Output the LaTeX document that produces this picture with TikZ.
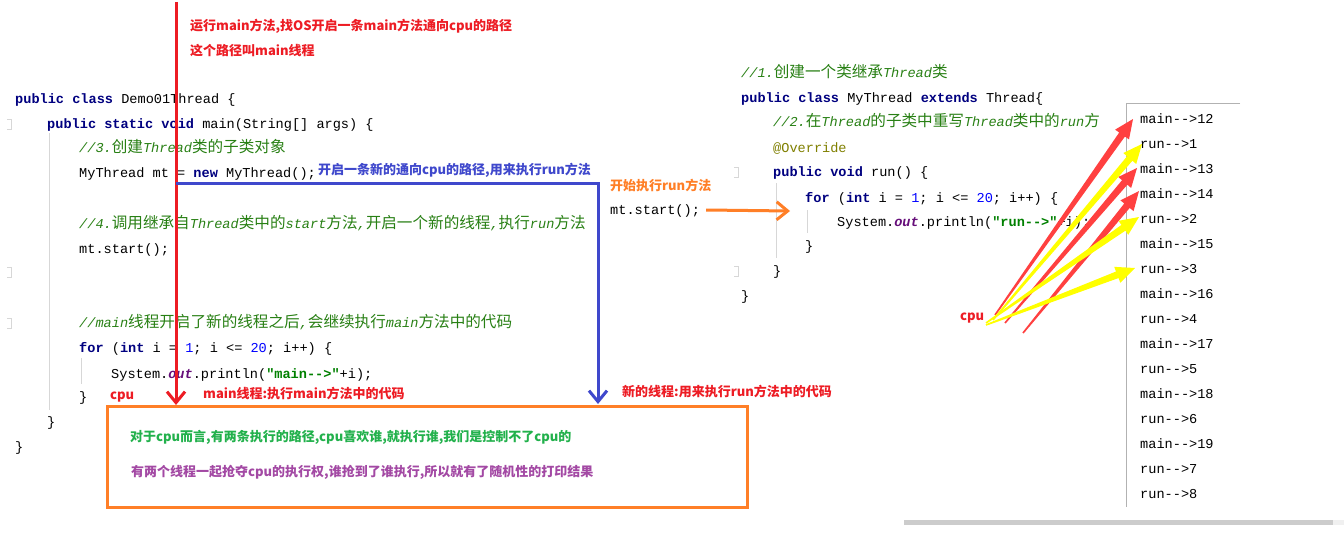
\documentclass[tikz,border=0pt]{standalone}
\usepackage{fontspec}
\usetikzlibrary{arrows.meta,calc}
\newfontfamily\mono{Liberation Mono}[Ligatures=TeXOff]
\newfontfamily\cjk{Noto Sans CJK SC}
\definecolor{kwc}{RGB}{0,0,128}
\definecolor{cmc}{RGB}{40,128,20}
\definecolor{numc}{RGB}{0,0,255}
\definecolor{strc}{RGB}{0,128,0}
\definecolor{outc}{RGB}{102,14,122}
\definecolor{annc}{RGB}{128,128,0}
\definecolor{redc}{RGB}{237,28,36}
\definecolor{bluec}{RGB}{63,72,204}
\definecolor{orc}{RGB}{255,127,39}
\definecolor{grc}{RGB}{34,177,76}
\definecolor{puc}{RGB}{163,73,164}
\definecolor{arrred}{RGB}{255,64,64}
\definecolor{arryel}{RGB}{255,255,0}
\definecolor{guide}{RGB}{215,215,215}
\newcommand\jkw[1]{{\bfseries\color{kwc}#1}}
\newcommand\jcm[1]{{\color{cmc}\itshape #1}}
\newcommand\jzh[1]{{\color{cmc}\fontsize{15.6}{16}\cjk #1}}
\newcommand\jnum[1]{{\color{numc}#1}}
\newcommand\jstr[1]{{\color{strc}\bfseries #1}}
\newcommand\jout[1]{{\color{outc}\bfseries\itshape #1}}
\newcommand\fatarr[3]{%
  \coordinate (fa-p) at ($(#3)!19pt!(#2)$);
  \fill[#1] ($(#2)!0.8pt!90:(#3)$) -- ($(fa-p)!3.5pt!90:(#3)$) -- ($(fa-p)!8.5pt!90:(#3)$) -- (#3)
    -- ($(fa-p)!8.5pt!-90:(#3)$) -- ($(fa-p)!3.5pt!-90:(#3)$) -- ($(#2)!0.8pt!-90:(#3)$) -- cycle;}
\begin{document}
\begin{tikzpicture}[x=1pt,y=-1pt,
  code/.style={anchor=west, inner sep=0pt, font=\fontsize{13.6}{16}\mono, text height=12pt, text depth=3pt},
  ann/.style={anchor=west, inner sep=0pt, font=\fontsize{13}{15}\cjk\bfseries},
  fold/.style={draw=guide, line width=0.8pt},
  barb/.style={-{Straight Barb[length=11pt,width=18pt]}, line width=3pt}]
\useasboundingbox (0,0) rectangle (1344,543);
\fill[white] (0,0) rectangle (1344,543);

% gutter
\draw[guide, line width=0.8pt] (49,133) -- (49,410);
\draw[guide, line width=0.8pt] (81,358) -- (81,384);
\draw[guide, line width=0.8pt] (776,183) -- (776,258);
\draw[guide, line width=0.8pt] (807,210) -- (807,233);
\foreach \yy in {124,272,323} \draw[fold] (7,\yy-5) -- (11,\yy-5) -- (11,\yy+5) -- (7,\yy+5);
\foreach \yy in {172,271} \draw[fold] (734,\yy-5) -- (738,\yy-5) -- (738,\yy+5) -- (734,\yy+5);

% left code
\node[code] (l1) at (15,99) {\jkw{public class} Demo01Thread \{};
\node[code] (l2) at (47,124) {\jkw{public static void} main(String[] args) \{};
\node[code] (l3) at (79,148) {\jcm{//3.}\jzh{创建}\jcm{Thread}\jzh{类的子类对象}};
\node[code] (l4) at (79,173) {MyThread mt = \jkw{new} MyThread();};
\node[code] (l5) at (79,224) {\jcm{//4.}\jzh{调用继承自}\jcm{Thread}\jzh{类中的}\jcm{start}\jzh{方法}\jcm{,}\jzh{开启一个新的线程}\jcm{,}\jzh{执行}\jcm{run}\jzh{方法}};
\node[code] (l6) at (79,249) {mt.start();};
\node[code] (l7) at (79,323) {\jcm{//main}\jzh{线程开启了新的线程之后}\jcm{,}\jzh{会继续执行}\jcm{main}\jzh{方法中的代码}};
\node[code] (l8) at (79,348) {\jkw{for} (\jkw{int} i = \jnum{1}; i <= \jnum{20}; i++) \{};
\node[code] (l9) at (111,374) {System.\jout{out}.println(\jstr{"main-->"}+i);};
\node[code] (l10) at (79,397) {\}};
\node[code] (l11) at (47,422) {\}};
\node[code] (l12) at (15,447) {\}};

% right code
\node[code] (r1) at (741,73) {\jcm{//1.}\jzh{创建一个类继承}\jcm{Thread}\jzh{类}};
\node[code] (r2) at (741,98) {\jkw{public class} MyThread \jkw{extends} Thread\{};
\node[code] (r3) at (773,122) {\jcm{//2.}\jzh{在}\jcm{Thread}\jzh{的子类中重写}\jcm{Thread}\jzh{类中的}\jcm{run}\jzh{方}};
\node[code, text=annc] (r4) at (773,148) {@Override};
\node[code] (r5) at (773,172) {\jkw{public void} run() \{};
\node[code] (r6) at (805,198) {\jkw{for} (\jkw{int} i = \jnum{1}; i <= \jnum{20}; i++) \{};
\node[code] (r7) at (837,222) {System.\jout{out}.println(\jstr{"run-->"}+i);};
\node[code] (r8) at (805,246) {\}};
\node[code] (r9) at (773,271) {\}};
\node[code] (r10) at (741,296) {\}};

\node[code] (ms2) at (610,210) {mt.start();};
\node[ann, text=orc] (lstart) at (610,186) {开始执行run方法};

% output panel
\fill[white] (1126,103) rectangle (1344,507);
\draw[gray!60, line width=0.8pt] (1240,103) -- (1126,103) -- (1126,507);
\foreach \t [count=\i] in {main-->12,run-->1,main-->13,main-->14,run-->2,main-->15,run-->3,main-->16,run-->4,main-->17,run-->5,main-->18,run-->6,main-->19,run-->7,run-->8}
  \node[code] (o\i) at (1140,94+25*\i) {\t};
\fill[gray!40] (904,520) rectangle (1333,525);
\fill[gray!12] (1333,520) rectangle (1344,525);

% annotations
\node[ann, text=redc] (a1) at (190,26) {运行main方法,找OS开启一条main方法通向cpu的路径};
\node[ann, text=redc] (a2) at (190,51) {这个路径叫main线程};
\node[ann, text=bluec] (a3) at (318,170) {开启一条新的通向cpu的路径,用来执行run方法};
\node[ann, text=redc] (cpu1) at (110,397) {cpu};
\node[ann, text=redc] (a4) at (203,394) {main线程:执行main方法中的代码};
\node[ann, text=redc] (a5) at (622,392) {新的线程:用来执行run方法中的代码};

% orange box
\node[draw=orc, line width=3pt, minimum width=640pt, minimum height=101pt, inner sep=0pt] (box) at (427,456.5) {};
\node[ann, text=grc] (b1) at (130,437) {对于cpu而言,有两条执行的路径,cpu喜欢谁,就执行谁,我们是控制不了cpu的};
\node[ann, text=puc] (b2) at (131,472) {有两个线程一起抢夺cpu的执行权,谁抢到了谁执行,所以就有了随机性的打印结果};

% red main-thread line
\coordinate (rtop) at (176,2);
\coordinate (rtip) at (176,405);
\draw[redc, barb] (rtop) -- (rtip);
% blue new-thread line
\coordinate (bstart) at (176,183);
\coordinate (bcorner) at (598,183);
\coordinate (btip) at (598,404);
\draw[bluec, barb] (bstart) -- (bcorner) -- (btip);
% orange arrow
\coordinate (oend) at (790,211);
\draw[orc, barb] ($(ms2.east)+(6,0)$) -- (oend);

% cpu fat arrows
\node[ann, text=redc] (cpu2) at (960,318) {cpu};
\coordinate (t1) at (995,315);
\coordinate (t2) at (993,320);
\coordinate (t3) at (1005,323);
\coordinate (t4) at (1023,333);
\coordinate (t5) at (986,323);
\coordinate (t6) at (986,325);
\coordinate (h1) at ($(o1.west)+(-7,0)$);
\coordinate (h2) at ($(o2.west)+(2,0)$);
\coordinate (h3) at ($(o3.west)+(-3,-1)$);
\coordinate (h4) at ($(o4.west)+(-1,-3)$);
\coordinate (h5) at ($(o5.west)+(-1,-2)$);
\coordinate (h6) at ($(o7.west)+(-5,-1)$);
\fatarr{arrred}{t1}{h1}
\fatarr{arrred}{t3}{h3}
\fatarr{arrred}{t4}{h4}
\fatarr{arryel}{t2}{h2}
\fatarr{arryel}{t5}{h5}
\fatarr{arryel}{t6}{h6}
\end{tikzpicture}
\end{document}
